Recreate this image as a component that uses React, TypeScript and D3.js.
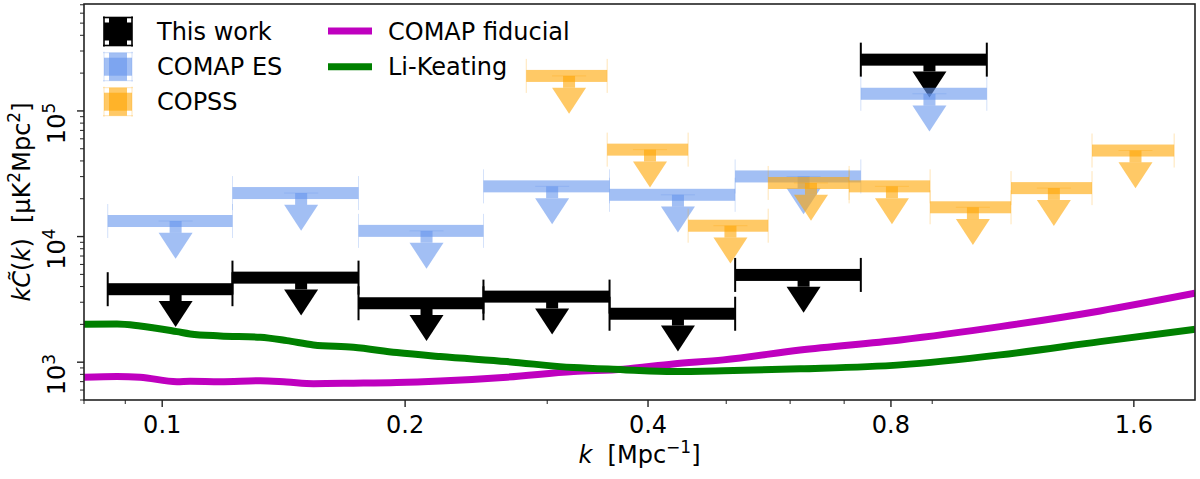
import * as d3 from 'd3';

// axis ticks
const kMajorTicks = [0.1, 0.2, 0.4, 0.8, 1.6];
const kMinorTicks = [0.08, 0.09, 0.3, 0.5, 0.6, 0.7, 0.9];
const yPowers = [3, 4, 5];

// upper limits: bin edges in k [1/Mpc] and limit values [uK^2 Mpc^2]
const comapBinEdges = [0.0856, 0.1222, 0.1751, 0.2501, 0.3584, 0.5129, 0.7341, 1.0517];
const thisWorkLimits = [3810, 4710, 2945, 3326, 2430, 4950, 256000];
const comapEsLimits = [13300, 22200, 11100, 25100, 21500, 30100, 137000];
const copssBinEdges = [0.2826, 0.356, 0.4485, 0.5636, 0.71, 0.8946, 1.127, 1.42, 1.795];
const copssLimits = [190000, 49200, 12200, 26700, 25100, 17100, 24300, 48400];

// model curves
const modelK = [
  0.08, 0.0879, 0.0939, 0.1043, 0.1083, 0.118, 0.1323, 0.1427, 0.154, 0.1726, 0.1953,
  0.2211, 0.2674, 0.3234, 0.3727, 0.4297, 0.4959, 0.6174, 0.8213, 1.0925, 1.453, 1.905,
];
const comapFiducial = [
  757, 770, 760, 700, 705, 700, 712, 695, 675, 680, 688,
  708, 760, 842, 880, 969, 1043, 1252, 1504, 1919, 2557, 3536,
];
const liKeating = [
  2005, 2016, 1944, 1751, 1679, 1618, 1580, 1485, 1372, 1316, 1192,
  1108, 1011, 906, 872, 842, 853, 885, 952, 1143, 1458, 1829,
];

const FONT = 'DejaVu Sans, sans-serif';
const BAR = 12;
const HEAD_W = 34;
const HEAD_H = 26;
const CAP = 34;

const plot = { left: 84, right: 1195, top: 4, bottom: 400 };

const x = d3.scaleLog().domain([0.08, 1.905]).range([plot.left, plot.right]);
const y = d3.scaleLog().domain([500, 7.1e5]).range([plot.bottom, plot.top]);

const line = d3
  .line<number>()
  .x((_, i) => x(modelK[i]))
  .y((d) => y(d))
  .curve(d3.curveMonotoneX);

function UpperLimits({ edges, values, color, opacity, capWidth, capOpacity }: any) {
  return (
    <g>
      {values.map((v: number, i: number) => {
        const lo = edges[i];
        const hi = edges[i + 1];
        const cx = x((lo + hi) / 2);
        const cy = y(v);
        const x0 = x(lo);
        const x1 = x(hi);
        const tip = y(v * 0.5);
        const base = tip - HEAD_H;
        return (
          <g key={i}>
            <rect x={x0} y={cy - BAR / 2} width={x1 - x0} height={BAR} fill={color} opacity={opacity} />
            <line x1={x0} x2={x0} y1={cy - CAP / 2} y2={cy + CAP / 2} stroke={color} strokeWidth={capWidth} opacity={capOpacity} />
            <line x1={x1} x2={x1} y1={cy - CAP / 2} y2={cy + CAP / 2} stroke={color} strokeWidth={capWidth} opacity={capOpacity} />
            <line x1={cx - CAP / 2} x2={cx + CAP / 2} y1={cy} y2={cy} stroke={color} strokeWidth={capWidth} opacity={capOpacity} />
            <rect x={cx - BAR / 2} y={cy} width={BAR} height={base - cy} fill={color} opacity={opacity} />
            <path
              d={`M${cx - HEAD_W / 2},${base}L${cx + HEAD_W / 2},${base}L${cx},${tip}Z`}
              fill={color}
              opacity={opacity}
            />
          </g>
        );
      })}
    </g>
  );
}

function ErrorbarHandle({ cx, cy, color, opacity, capWidth, capOpacity }: any) {
  const h = 14;
  const t = 18;
  return (
    <g>
      <rect x={cx - h} y={cy - t / 2} width={2 * h} height={t} fill={color} opacity={opacity} />
      <rect x={cx - t / 2} y={cy - h} width={t} height={2 * h} fill={color} opacity={opacity} />
      <line x1={cx - h} x2={cx - h} y1={cy - h - 1} y2={cy + h + 1} stroke={color} strokeWidth={capWidth} opacity={capOpacity} />
      <line x1={cx + h} x2={cx + h} y1={cy - h - 1} y2={cy + h + 1} stroke={color} strokeWidth={capWidth} opacity={capOpacity} />
      <line x1={cx - h - 1} x2={cx + h + 1} y1={cy - h} y2={cy - h} stroke={color} strokeWidth={capWidth} opacity={capOpacity} />
      <line x1={cx - h - 1} x2={cx + h + 1} y1={cy + h} y2={cy + h} stroke={color} strokeWidth={capWidth} opacity={capOpacity} />
    </g>
  );
}

export default function App() {
  const yMinor = y.ticks().filter((t) => Math.abs(Math.log10(t) - Math.round(Math.log10(t))) > 1e-6);
  const pre = { whiteSpace: 'pre' as const };

  return (
    <div style={{ position: 'absolute', left: 0, top: 0 }}>
      <svg width={1200} height={479} style={{ display: 'block', fontFamily: FONT }}>
        <rect width={1200} height={479} fill="#fff" />
        <defs>
          <clipPath id="plot-clip">
            <rect x={plot.left} y={plot.top} width={plot.right - plot.left} height={plot.bottom - plot.top} />
          </clipPath>
        </defs>

        <g clipPath="url(#plot-clip)">
          <path d={line(comapFiducial) || ''} fill="none" stroke="#bf00bf" strokeWidth={7} />
          <path d={line(liKeating) || ''} fill="none" stroke="#008000" strokeWidth={7} />
          <UpperLimits edges={comapBinEdges} values={thisWorkLimits} color="#000" opacity={1} capWidth={2} capOpacity={1} />
          <UpperLimits edges={comapBinEdges} values={comapEsLimits} color="#6495ed" opacity={0.6} capWidth={0.8} capOpacity={0.35} />
          <UpperLimits edges={copssBinEdges} values={copssLimits} color="#ffa500" opacity={0.6} capWidth={0.8} capOpacity={0.35} />
        </g>

        {/* frame */}
        <rect
          x={plot.left}
          y={plot.top}
          width={plot.right - plot.left}
          height={plot.bottom - plot.top}
          fill="none"
          stroke="#222"
          strokeWidth={1.6}
        />

        {/* x ticks */}
        {kMajorTicks.map((k) => (
          <g key={k}>
            <line x1={x(k)} x2={x(k)} y1={plot.bottom} y2={plot.bottom + 7} stroke="#222" strokeWidth={1.4} />
            <text x={x(k)} y={433} textAnchor="middle" fontSize={24}>
              {String(k)}
            </text>
          </g>
        ))}
        {kMinorTicks.map((k) => (
          <line key={k} x1={x(k)} x2={x(k)} y1={plot.bottom} y2={plot.bottom + 4} stroke="#222" strokeWidth={1} />
        ))}

        {/* y ticks */}
        {yPowers.map((p) => {
          const ty = y(Math.pow(10, p));
          return (
            <g key={p}>
              <line x1={plot.left - 7} x2={plot.left} y1={ty} y2={ty} stroke="#222" strokeWidth={1.4} />
              <text transform={`translate(65,${ty + 12.5}) rotate(-90)`} textAnchor="middle" fontSize={24}>
                10<tspan fontSize={17} dy={-10}>{p}</tspan>
              </text>
            </g>
          );
        })}
        {yMinor.map((t) => (
          <line key={t} x1={plot.left - 4} x2={plot.left} y1={y(t)} y2={y(t)} stroke="#222" strokeWidth={1} />
        ))}

        {/* axis labels */}
        <text x={(plot.left + plot.right) / 2} y={463} textAnchor="middle" fontSize={24} style={pre}>
          <tspan fontStyle="italic">k</tspan>
          {'  [Mpc'}
          <tspan fontSize={17} dy={-10}>{'\u22121'}</tspan>
          <tspan dy={10}>]</tspan>
        </text>
        <text transform={`translate(30,${(plot.top + plot.bottom) / 2}) rotate(-90)`} textAnchor="middle" fontSize={24} style={pre}>
          <tspan fontStyle="italic">{'kC\u0303'}</tspan>
          {'('}
          <tspan fontStyle="italic">k</tspan>
          {')  [\u03bcK'}
          <tspan fontSize={17} dy={-10}>2</tspan>
          <tspan dy={10}>Mpc</tspan>
          <tspan fontSize={17} dy={-10}>2</tspan>
          <tspan dy={10}>]</tspan>
        </text>

        {/* legend */}
        <ErrorbarHandle cx={118} cy={31.5} color="#000" opacity={1} capWidth={1.6} capOpacity={1} />
        <text x={157} y={40} fontSize={24}>This work</text>
        <ErrorbarHandle cx={118} cy={66.7} color="#6495ed" opacity={0.6} capWidth={0.8} capOpacity={0.35} />
        <text x={157} y={75} fontSize={24}>COMAP ES</text>
        <ErrorbarHandle cx={118} cy={101.7} color="#ffa500" opacity={0.6} capWidth={0.8} capOpacity={0.35} />
        <text x={157} y={110} fontSize={24}>COPSS</text>

        <line x1={328} x2={372} y1={31} y2={31} stroke="#bf00bf" strokeWidth={7} />
        <text x={388} y={40} fontSize={24}>COMAP fiducial</text>
        <line x1={328} x2={372} y1={66.7} y2={66.7} stroke="#008000" strokeWidth={7} />
        <text x={388} y={75} fontSize={24}>Li-Keating</text>
      </svg>
    </div>
  );
}
